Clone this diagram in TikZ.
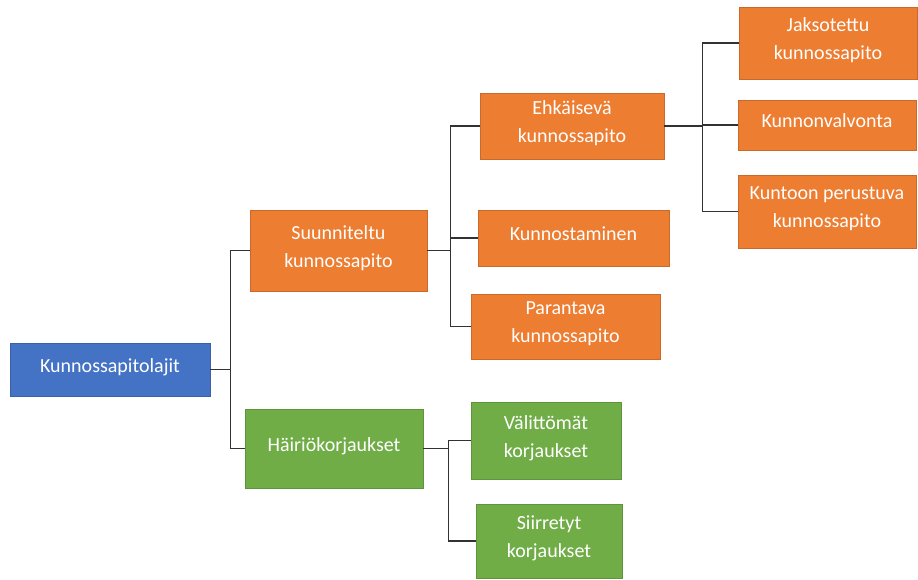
\documentclass[tikz,border=0pt]{standalone}
\usepackage{fontspec}
\setmainfont{Carlito}
\usetikzlibrary{positioning}
\definecolor{korange}{RGB}{237,125,49}
\definecolor{kblue}{RGB}{68,114,196}
\definecolor{kgreen}{RGB}{112,173,71}
\definecolor{kline}{RGB}{50,50,50}

\begin{document}
\begin{tikzpicture}[x=1pt, y=-1pt,
  box/.style={draw=korange!85!black, line width=0.8pt, fill=korange, text=white,
  align=center, font=\fontsize{20}{28}\selectfont, inner sep=2pt, text depth=8pt},
  bluebox/.style={box, draw=kblue!85!black, fill=kblue},
  greenbox/.style={box, draw=kgreen!85!black, fill=kgreen},
  conn/.style={kline, line width=1.4pt}
]
\useasboundingbox (0,0) rectangle (918,579);
\node[bluebox, minimum width=200, minimum height=53] (root) at (110,369.5) {Kunnossapitolajit};
\node[box, minimum width=177, minimum height=81] (suun) at (338.5,250.5) {Suunniteltu\\kunnossapito};
\node[greenbox, minimum width=178, minimum height=79] (hair) at (334,448.5) {Häiriökorjaukset};
\node[box, minimum width=184, minimum height=66] (ehk) at (572,126) {Ehkäisevä\\kunnossapito};
\node[box, minimum width=191, minimum height=56] (kunnost) at (573.5,238) {Kunnostaminen};
\node[box, minimum width=189, minimum height=65] (parant) at (565.5,326.5) {Parantava\\kunnossapito};
\node[greenbox, minimum width=150, minimum height=77] (valit) at (546,440.5) {Välittömät\\korjaukset};
\node[greenbox, minimum width=146, minimum height=74] (siirr) at (549,541) {Siirretyt\\korjaukset};
\node[box, minimum width=178, minimum height=72] (jaks) at (828,43) {Jaksotettu\\kunnossapito};
\node[box, minimum width=178, minimum height=50] (kvalv) at (827,125) {Kunnonvalvonta};
\node[box, minimum width=178, minimum height=73] (kunto) at (827,211.5) {Kuntoon perustuva\\kunnossapito};
\draw[conn] (root.east) -- ++(20,0) |- (suun.west);
\draw[conn] (root.east) -- ++(20,0) |- (hair.west);
\draw[conn] (suun.east) -- ++(23,0) |- (ehk.west);
\draw[conn] (suun.east) -- ++(23,0) |- (kunnost.west);
\draw[conn] (suun.east) -- ++(23,0) |- (parant.west);
\draw[conn] (hair.east) -- ++(25,0) |- (valit.west);
\draw[conn] (hair.east) -- ++(25,0) |- (siirr.west);
\draw[conn] (ehk.east) -- ++(38,0) |- (jaks.west);
\draw[conn] (ehk.east) -- ++(38,0) |- (kvalv.west);
\draw[conn] (ehk.east) -- ++(38,0) |- (kunto.west);
\end{tikzpicture}
\end{document}
